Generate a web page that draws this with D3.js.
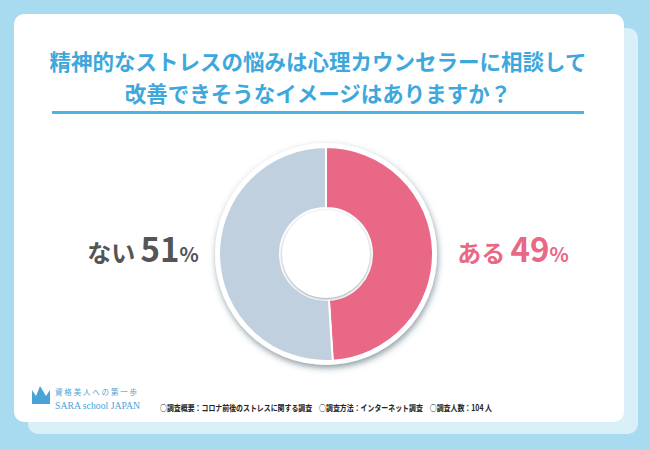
<!DOCTYPE html><html><head><meta charset="utf-8"><script src="https://cdn.jsdelivr.net/npm/d3@7"></script>
<style>body{margin:0}svg{display:block}</style></head><body><script>
const categories=["ある","ない"];
const values=[49,51];
const colors=["#e96885","#c0d0df"];
const W=650,H=450;
const svg=d3.select("body").append("svg").attr("width",W).attr("height",H).style("font-family","'Noto Sans CJK JP'");
const defs=svg.append("defs");
const f=defs.append("filter").attr("id","sh").attr("x","-20%").attr("y","-20%").attr("width","140%").attr("height","140%");
f.append("feDropShadow").attr("dx",1).attr("dy",3).attr("stdDeviation",3).attr("flood-color","#3a5a6a").attr("flood-opacity",0.6);
const fi=defs.append("filter").attr("id","ish");
fi.append("feDropShadow").attr("dx",0).attr("dy",1).attr("stdDeviation",1.5).attr("flood-color","#3a5a6a").attr("flood-opacity",0.6);
svg.append("rect").attr("width",W).attr("height",H).attr("fill","#a8daf0");
svg.append("rect").attr("x",28).attr("y",28).attr("width",610).attr("height",406).attr("rx",10).attr("fill","#d9f0f9");
svg.append("rect").attr("x",14).attr("y",14).attr("width",610).attr("height",408).attr("rx",10).attr("fill","#fff");
const tc="#3ea8dc";
svg.append("text").attr("x",318).attr("y",70).attr("text-anchor","middle").attr("font-size",21.5).attr("font-weight",700).attr("fill",tc).text("精神的なストレスの悩みは心理カウンセラーに相談して");
svg.append("text").attr("x",318).attr("y",102).attr("text-anchor","middle").attr("font-size",21.5).attr("font-weight",700).attr("fill",tc).text("改善できそうなイメージはありますか？");
svg.append("rect").attr("x",52).attr("y",111).attr("width",532).attr("height",3).attr("fill","#4bb5e2");
const cx=326,cy=254;
const g=svg.append("g").attr("transform",`translate(${cx},${cy})`);
g.append("circle").attr("r",111).attr("fill","#fff").attr("filter","url(#sh)");
const pie=d3.pie().sort(null).startAngle(0).endAngle(2*Math.PI)(values);
const arc=d3.arc().innerRadius(46).outerRadius(107);
g.selectAll("path").data(pie).join("path").attr("d",arc).attr("fill",(d,i)=>colors[i]).attr("stroke","#fff").attr("stroke-width",2);
g.append("circle").attr("r",44).attr("fill","#fff").attr("filter","url(#ish)");
g.append("circle").attr("r",41).attr("fill","#fff");
function lab(x,i,c){const t=svg.append("text").attr("x",x).attr("y",262).attr("text-anchor","middle").attr("fill",c).attr("font-weight",700);
t.append("tspan").attr("font-size",24).text(categories[i]+" ");
t.append("tspan").attr("font-size",33).text(values[i]);
t.append("tspan").attr("font-size",20).text("%");}
lab(513,0,"#e96885");lab(143,1,"#555");
const lg=svg.append("g").attr("fill","#4aa3d6");
lg.append("path").attr("d","M32,404 L32,390 L36,396 L40,386 L46,396 L50,390 L50,404 Z");
svg.append("text").attr("x",55).attr("y",395).attr("font-size",7.5).attr("fill","#4aa3d6").attr("textLength",82).attr("lengthAdjust","spacing").text("資格美人への第一歩");
svg.append("text").attr("x",55).attr("y",409).attr("font-size",10).attr("fill","#4aa3d6").attr("textLength",85).attr("lengthAdjust","spacingAndGlyphs").attr("font-family","'Liberation Serif'").text("SARA school JAPAN");
svg.append("text").attr("x",160).attr("y",411).attr("font-size",8.5).attr("font-weight",700).attr("fill","#222").attr("textLength",332).attr("lengthAdjust","spacingAndGlyphs").text("○調査概要：コロナ前後のストレスに関する調査　○調査方法：インターネット調査　○調査人数：104 人");
</script></body></html>
